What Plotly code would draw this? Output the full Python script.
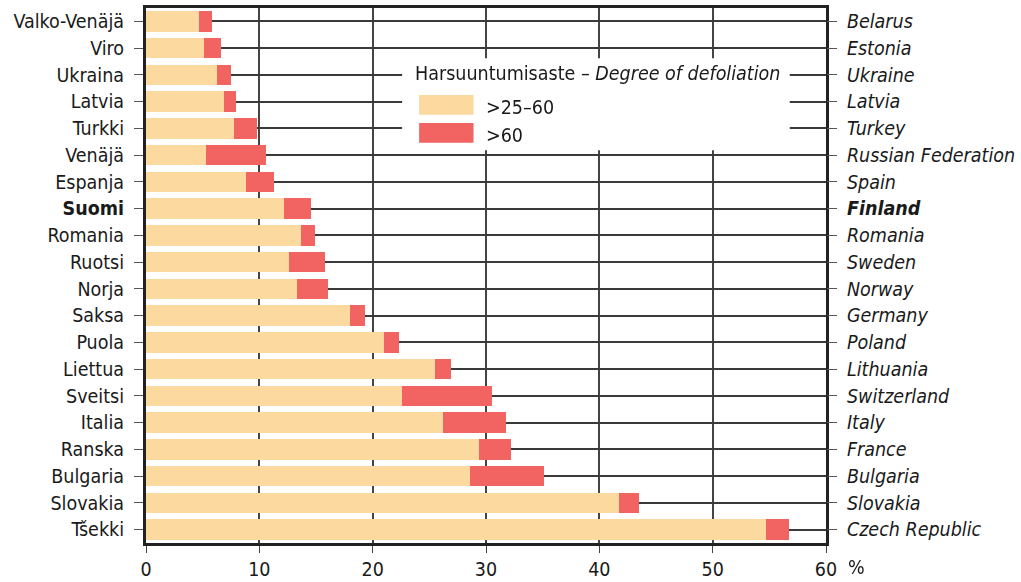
import plotly.graph_objects as go

countries_fi = ["Valko-Venäjä", "Viro", "Ukraina", "Latvia", "Turkki", "Venäjä", "Espanja",
                "Suomi", "Romania", "Ruotsi", "Norja", "Saksa", "Puola", "Liettua", "Sveitsi",
                "Italia", "Ranska", "Bulgaria", "Slovakia", "Tšekki"]
countries_en = ["Belarus", "Estonia", "Ukraine", "Latvia", "Turkey", "Russian Federation", "Spain",
                "Finland", "Romania", "Sweden", "Norway", "Germany", "Poland", "Lithuania",
                "Switzerland", "Italy", "France", "Bulgaria", "Slovakia", "Czech Republic"]
moderate = [4.7, 5.1, 6.3, 6.9, 7.8, 5.3, 8.8, 12.2, 13.7, 12.6, 13.3, 18.0, 21.0, 25.5,
            22.6, 26.2, 29.4, 28.6, 41.7, 54.7]          # >25-60 %
severe = [1.1, 1.5, 1.2, 1.0, 2.0, 5.3, 2.5, 2.4, 1.2, 3.2, 2.8, 1.3, 1.3, 1.4,
          7.9, 5.6, 2.8, 6.5, 1.8, 2.0]                 # >60 %
x_ticks = [0, 10, 20, 30, 40, 50, 60]
legend_title = "Harsuuntumisaste – <i>Degree of defoliation</i>"
legend_labels = [">25–60", ">60"]

BEIGE = "#FCD99E"
RED = "#F16461"
FONT = "Liberation Sans Narrow, Arial Narrow, DejaVu Sans Condensed, Arial, sans-serif"

pos = list(range(len(countries_fi)))
left_text = [f"<b>{c}</b>" if c == "Suomi" else c for c in countries_fi]
right_text = [f"<b><i>{c}</i></b>" if c == "Finland" else f"<i>{c}</i>" for c in countries_en]

fig = go.Figure()
fig.add_trace(go.Bar(y=pos, x=moderate, orientation="h", marker=dict(color=BEIGE, line=dict(width=0)),
                     width=0.76, name=legend_labels[0], showlegend=False))
fig.add_trace(go.Bar(y=pos, x=severe, orientation="h", marker=dict(color=RED, line=dict(width=0)),
                     width=0.76, name=legend_labels[1], showlegend=False))
fig.add_trace(go.Scatter(y=pos, x=moderate, yaxis="y2", mode="markers", opacity=0,
                         hoverinfo="skip", showlegend=False))

fig.update_layout(
    barmode="stack",
    width=1021, height=582,
    margin=dict(l=146, r=195, t=8, b=39, autoexpand=False),
    paper_bgcolor="white", plot_bgcolor="white",
    font=dict(family=FONT, size=19.5, color="#1a1a1a"),
    xaxis=dict(range=[0, 60], tickvals=x_ticks, showgrid=True, gridcolor="#444", gridwidth=1.5,
               showline=True, linecolor="#222", linewidth=3, mirror=True, automargin=False,
               ticks="outside", ticklen=7, tickcolor="#444", zeroline=False),
    yaxis=dict(range=[19.5, -0.5], tickvals=pos, ticktext=left_text, showgrid=True, automargin=False,
               gridcolor="#3a3a3a", gridwidth=1.5, showline=True, linecolor="#222", linewidth=3,
               mirror=True, ticks="outside", ticklen=9, tickcolor="#555", zeroline=False,
               ticklabelstandoff=6),
    yaxis2=dict(range=[19.5, -0.5], tickvals=pos, ticktext=right_text, overlaying="y", side="right",
                showgrid=False, ticks="outside", ticklen=10, tickcolor="#555", zeroline=False,
                showline=False, automargin=False, ticklabelstandoff=6),
)

# manual legend box
fig.add_shape(type="rect", xref="x", yref="y", x0=22.6, x1=56.8, y0=1.38, y1=4.82,
              fillcolor="white", line=dict(width=0), layer="above")
fig.add_annotation(xref="x", yref="y", x=23.6, y=1.95, text=legend_title, showarrow=False,
                   xanchor="left", yanchor="middle", font=dict(size=19.5))
for i, (lab, col) in enumerate(zip(legend_labels, [BEIGE, RED])):
    yc = 3.12 + i * 1.05
    fig.add_shape(type="rect", xref="x", yref="y", x0=24.1, x1=28.9, y0=yc - 0.37, y1=yc + 0.37,
                  fillcolor=col, line=dict(width=0), layer="above")
    fig.add_annotation(xref="x", yref="y", x=29.8, y=yc + 0.1, text=lab, showarrow=False,
                       xanchor="left", yanchor="middle", font=dict(size=19.5))

fig.add_annotation(xref="x", yref="paper", x=60, y=0, yshift=-24, xshift=20, text="%",
                   showarrow=False, xanchor="left", yanchor="middle", font=dict(size=19.5))

fig.write_html("out.html", config={"displayModeBar": False},
               post_script="document.body.style.margin='0';")
